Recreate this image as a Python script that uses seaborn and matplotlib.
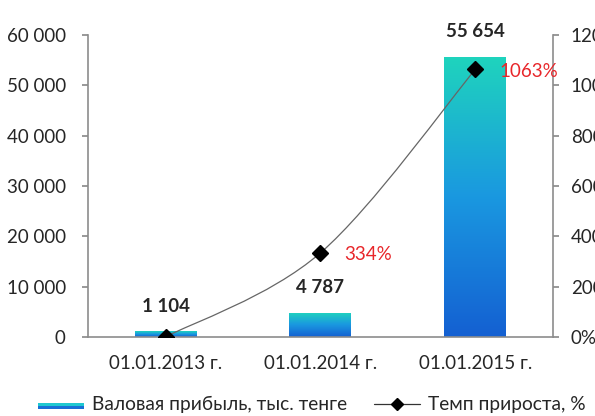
import matplotlib
matplotlib.use("Agg")
import matplotlib.pyplot as plt  # noqa: E402
import numpy as np  # noqa: E402
import seaborn as sns  # noqa: E402
from matplotlib.colors import LinearSegmentedColormap  # noqa: E402
from matplotlib.legend_handler import HandlerBase  # noqa: E402
from matplotlib.lines import Line2D  # noqa: E402
from matplotlib.patches import PathPatch, Rectangle  # noqa: E402
from matplotlib.path import Path  # noqa: E402

# --- data -------------------------------------------------------------------
dates = ["01.01.2013 г.", "01.01.2014 г.", "01.01.2015 г."]
profit = [1104, 4787, 55654]            # тыс. тенге
growth = [0, 334, 1063]                 # %
profit_labels = ["1 104", "4 787", "55 654"]
growth_labels = ["", "334%", "1063%"]
left_ticks = [0, 10000, 20000, 30000, 40000, 50000, 60000]
right_ticks = [0, 200, 400, 600, 800, 1000, 1200]

sns.set_theme(style="white")
plt.rcParams["font.family"] = ["Lato", "DejaVu Sans"]

GRAY = "#8c8c8c"
RED = "#e8262a"
FS = 13.5
grad = LinearSegmentedColormap.from_list("bar", ["#1460d2", "#1a98e0", "#1fd4bd"])

fig = plt.figure(figsize=(5.95, 4.16), dpi=100)
ax = fig.add_axes([0.148, 0.19, 0.781, 0.726])

sns.barplot(x=dates, y=profit, ax=ax, width=0.4, color="#1a9be0", zorder=2)

# vertical gradient fill inside every bar
g = np.linspace(0, 1, 256).reshape(-1, 1)
for p in ax.patches:
    x0, y0, w, h = p.get_x(), p.get_y(), p.get_width(), p.get_height()
    im = ax.imshow(g, cmap=grad, origin="lower", aspect="auto",
                   extent=(x0, x0 + w, y0, y0 + h), zorder=2)
    im.set_clip_path(p)
    p.set_facecolor("none")
    p.set_edgecolor("none")

ax.set_xlim(-0.5, 2.5)
ax.set_ylim(0, 60000)
ax.set_yticks(left_ticks)
ax.set_yticklabels([f"{v:,}".replace(",", " ") for v in left_ticks])
ax.set_xticks(range(len(dates)))
ax.set_xticklabels(dates)
ax.set_xticks([-0.5, 0.5, 1.5, 2.5], minor=True)
ax.tick_params(axis="x", which="major", length=0, pad=13, labelsize=FS)
ax.tick_params(axis="x", which="minor", length=4, color=GRAY, direction="out")
ax.tick_params(axis="y", length=4, color=GRAY, pad=12, labelsize=FS, left=True)
ax.set_xlabel("")
ax.set_ylabel("")
for side in ["top", "right"]:
    ax.spines[side].set_visible(False)
for side in ["left", "bottom"]:
    ax.spines[side].set_color(GRAY)
    ax.spines[side].set_linewidth(1.2)

for i, (v, lab) in enumerate(zip(profit, profit_labels)):
    ax.annotate(lab, (i, v), xytext=(0, 25), textcoords="offset pixels",
                ha="center", va="center", fontsize=FS, fontweight="bold", zorder=5)

# --- growth rate on secondary axis ------------------------------------------
ax2 = ax.twinx()
ax2.set_ylim(0, 1200)
ax2.set_yticks(right_ticks)
ax2.set_yticklabels([f"{v}%" for v in right_ticks])
ax2.tick_params(axis="y", length=4, color=GRAY, pad=9, labelsize=FS, right=True)
for side in ["top", "left", "bottom"]:
    ax2.spines[side].set_visible(False)
ax2.spines["right"].set_color(GRAY)
ax2.spines["right"].set_linewidth(1.2)
ax2.grid(False)

# smoothed connecting line (Catmull-Rom -> cubic Bezier)
pts = np.column_stack([np.arange(len(growth)), growth]).astype(float)
ext = np.vstack([pts[0], pts, pts[-1]])
verts, codes = [tuple(pts[0])], [Path.MOVETO]
for k in range(len(pts) - 1):
    p0, p1, p2, p3 = ext[k], ext[k + 1], ext[k + 2], ext[k + 3]
    verts += [tuple(p1 + (p2 - p0) / 6), tuple(p2 - (p3 - p1) / 6), tuple(p2)]
    codes += [Path.CURVE4] * 3
ax2.add_patch(PathPatch(Path(verts, codes), facecolor="none", edgecolor="#666666",
                        linewidth=0.9, zorder=3))
ax2.plot(range(len(growth)), growth, linestyle="none", marker="D", markersize=8,
         color="black", zorder=4)
for i, (v, lab) in enumerate(zip(growth, growth_labels)):
    if lab:
        ax2.annotate(lab, (i, v), xytext=(24, -2), textcoords="offset pixels",
                     ha="left", va="center", fontsize=FS, color=RED, zorder=5)


# --- legend -----------------------------------------------------------------
class GradientPatchHandler(HandlerBase):
    def create_artists(self, legend, orig, xd, yd, w, h, fs, trans):
        top = Rectangle((xd, yd + h * 0.3), w, h * 0.22, facecolor="#1fc8d0",
                        edgecolor="none", transform=trans)
        bot = Rectangle((xd, yd + h * 0.12), w, h * 0.18, facecolor="#1770d6",
                        edgecolor="none", transform=trans)
        return [top, bot]


bar_handle = Rectangle((0, 0), 1, 1)
line_handle = Line2D([], [], color="#333333", linewidth=0.9, marker="D",
                     markersize=6, markerfacecolor="black", markeredgecolor="black")
fig.legend([bar_handle, line_handle],
           ["Валовая прибыль, тыс. тенге", "Темп прироста, %"],
           handler_map={bar_handle: GradientPatchHandler()},
           loc="center", bbox_to_anchor=(0.524, 0.027), ncol=2, frameon=False,
           fontsize=13.8, handlelength=2.4, handletextpad=0.4, columnspacing=1.4)

fig.savefig("out.png", dpi=100)
